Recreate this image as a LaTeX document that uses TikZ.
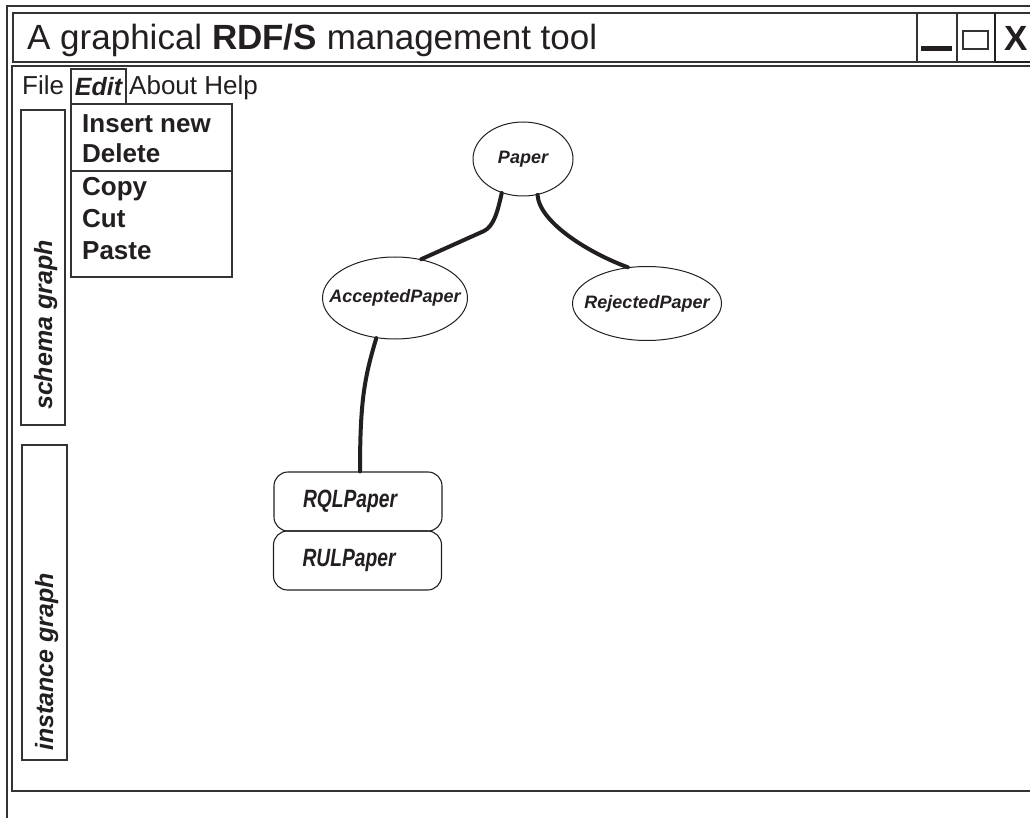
\documentclass[tikz,border=0pt]{standalone}
\usepackage{fontspec}
\setmainfont{Liberation Sans}
\usepackage{graphicx}
\usetikzlibrary{shapes.geometric}
\definecolor{ink}{HTML}{231F20}
\definecolor{frm}{HTML}{333333}
\begin{document}
\begin{tikzpicture}[x=1pt,y=-1pt,
  frame/.style={draw=frm, line width=1.3pt},
  edge/.style={draw=ink, line width=4pt, line cap=round},
  cls/.style={ellipse, draw=ink, line width=1pt, inner sep=0pt, text=ink,
    font=\fontsize{18}{21}\selectfont\bfseries\itshape},
  inst/.style={rectangle, rounded corners=14pt, draw=ink, line width=1.1pt,
    minimum width=168pt, minimum height=59pt, inner xsep=29pt, inner ysep=0pt,
    text width=110pt, align=left, text=ink,
    font=\fontsize{25}{28}\selectfont\bfseries\itshape},
  menutxt/.style={anchor=base west, text=ink, inner sep=0pt, font=\fontsize{26}{30}\selectfont},
  itemtxt/.style={anchor=base west, text=ink, inner sep=0pt, font=\fontsize{26}{30}\selectfont\bfseries},
  sidetxt/.style={rotate=90, anchor=base west, text=ink, inner sep=0pt,
    font=\fontsize{25}{28}\selectfont\bfseries\itshape},
  sidebox/.style={draw=frm, line width=1.2pt}]
\useasboundingbox (0,0) rectangle (1030,818);
\clip (0,0) rectangle (1030,818);
\fill[white] (0,0) rectangle (1030,818);
% outer window frame
\draw[frame] (7,830) -- (7,6) -- (1040,6);
% title bar
\draw[frame] (13,62) rectangle (1040,13);
\node[anchor=base west, inner sep=0pt, text=ink, font=\fontsize{35}{40}\selectfont] (title) at (27,50)
  {A graphical \textbf{RDF/S} management tool};
% title buttons
\draw[frame] (917,13) rectangle (957,62);
\fill[ink] (921,46) rectangle (952,51);
\draw[frame] (957,13) rectangle (995,62);
\draw[draw=frm, line width=1.1pt] (963,31) rectangle (988,49);
\draw[draw=ink, line width=2pt] (995,62) -- (995,13);
\draw[draw=ink, line width=2.4pt] (995,62) -- (1040,62);
\node[anchor=base west, inner sep=0pt, text=ink, font=\fontsize{35}{40}\selectfont\bfseries] (close) at (1004,51) {X};
% content frame
\draw[frame] (12,66) rectangle (1040,791);
% menu bar
\node[menutxt] (file) at (22,95) {File};
\node[draw=frm, line width=1.1pt, minimum width=55pt, minimum height=35pt, inner sep=0pt,
  text=ink, font=\fontsize{25}{28}\selectfont\bfseries\itshape] (edit) at (98.5,86.5) {Edit};
\node[menutxt] (about) at (129,95) {About Help};
% dropdown
\draw[sidebox] (71,104) rectangle (232,171);
\draw[sidebox] (71,171) rectangle (232,277);
\node[itemtxt] (ins) at (82,133) {Insert new};
\node[itemtxt] (del) at (82,163) {Delete};
\node[itemtxt] (cop) at (82,196) {Copy};
\node[itemtxt] (cut) at (82,228) {Cut};
\node[itemtxt] (pas) at (82,259) {Paste};
% side panels
\draw[sidebox] (21,110) rectangle (65,425);
\node[sidetxt] (schema) at (52,410) {schema graph};
\draw[sidebox] (22,445) rectangle (67,760);
\node[sidetxt] (instance) at (53,751) {instance graph};
% graph nodes
\node[cls, minimum width=100pt, minimum height=74pt] (paper) at (523,159) {\makebox[0pt]{Paper}};
\node[cls, minimum width=145pt, minimum height=82pt] (acc) at (395,298) {\makebox[0pt]{AcceptedPaper}};
\node[cls, minimum width=149pt, minimum height=74pt] (rej) at (647,303.5) {\makebox[0pt]{RejectedPaper}};
\node[inst] (rql) at (358,501.5) {\scalebox{0.77}[1]{RQLPaper}};
\node[inst] (rul) at (357.5,560.5) {\scalebox{0.77}[1]{RULPaper}};
% connectors
\coordinate (b1) at (484,231);
\draw[edge] (paper.238) .. controls +(-4,18) and +(10,-5) .. (b1) -- (acc.56);
\draw[edge] (paper.292) .. controls +(2,28) and +(-38,-14) .. (rej.118);
\draw[edge] (acc.245) .. controls +(-12,40) and +(0,-70) .. ([xshift=2pt]rql.north);
\end{tikzpicture}
\end{document}
